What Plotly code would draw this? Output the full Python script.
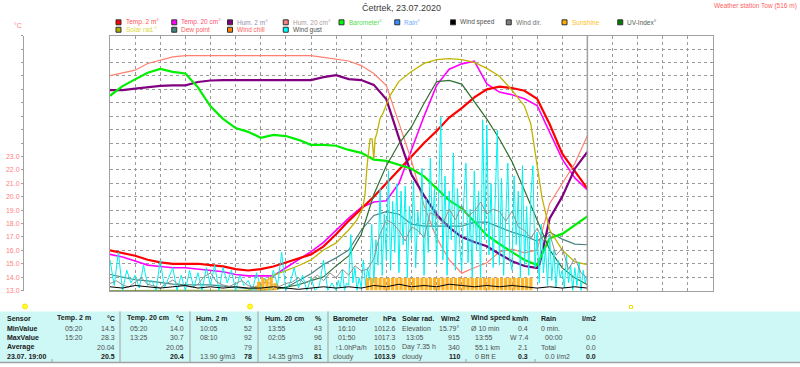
import plotly.graph_objects as go

W, H = 800, 367
def px(x): return x / W
def py(y): return 1 - y / H

# ---------------- data (hours of day) ----------------
hours = [i * 0.5 for i in range(39)]  # 0:00 .. 19:00

temp_2m = [16.0, 15.8, 15.6, 15.3, 15.1, 15.0, 15.0, 15.0, 14.9, 14.8, 14.6, 14.5, 14.6, 14.8,
           15.1, 15.4, 15.7, 16.3, 17.2, 18.2, 19.1, 20.0, 21.0, 22.0, 23.0, 24.0, 24.9, 25.9,
           26.6, 27.4, 28.0, 28.2, 28.1, 27.9, 27.3, 25.4, 23.2, 21.9, 20.6]

temp_20cm = [15.7, 15.5, 15.2, 14.9, 14.8, 14.7, 14.7, 14.6, 14.5, 14.4, 14.2, 14.1, 14.1, 14.1,
             14.7, 15.3, 15.9, 16.6, 17.5, 18.4, 19.2, 19.6, 19.7, 21.0, 23.5, 26.0, 28.3, 29.5,
             29.9, 30.1, 28.4, 27.8, 27.6, 27.3, 26.8, 24.8, 22.8, 21.4, 20.5]

hum2_t = [0, 0.5, 1, 1.5, 2, 2.5, 3, 3.5, 4, 4.5, 5, 5.5, 6, 6.5, 7, 7.5, 8, 8.5, 9, 9.5, 10,
          10.5, 11, 11.5, 12, 12.5, 13, 13.5, 14, 14.5, 15, 15.5, 16, 16.5, 17, 17.1, 17.5, 18,
          18.5, 19]
hum_2m = [88.9, 88.9, 89.2, 89.5, 89.8, 89.9, 89.9, 90.6, 90.9, 91.0, 91.0, 91.0, 91.0, 91.0,
          91.0, 91.0, 91.0, 91.6, 92.0, 91.2, 91.0, 90.0, 87.0, 79.0, 71.4, 67.0, 63.1, 60.4,
          58.4, 57.4, 56.5, 54.9, 53.4, 52.4, 52.0, 52.8, 62.3, 66.8, 72.6, 76.1]

hum_20cm = [91.2, 91.9, 92.5, 94.1, 94.9, 95.7, 96.0, 96.0, 96.0, 96.0, 96.0, 96.0, 96.0, 96.0,
            96.0, 96.0, 96.0, 95.6, 95.1, 94.7, 93.6, 91.7, 88.8, 79.5, 70.7, 59.9, 52.1, 46.8,
            43.6, 44.9, 46.1, 48.7, 49.4, 48.5, 49.2, 60.4, 65.2, 70.0, 76.7]

barometer = [1016.65, 1016.88, 1017.04, 1017.20, 1017.29, 1017.22, 1017.18, 1016.85, 1016.40,
             1016.10, 1015.88, 1015.79, 1015.65, 1015.72, 1015.69, 1015.60, 1015.48, 1015.48,
             1015.46, 1015.36, 1015.29, 1015.13, 1015.10, 1015.01, 1014.91, 1014.73, 1014.44,
             1014.16, 1013.97, 1013.64, 1013.33, 1013.12, 1012.93, 1012.74, 1012.62, 1013.26,
             1013.36, 1013.57, 1013.78]

solar_t = [0, 5.5, 6, 6.5, 7, 7.5, 8, 8.5, 9, 9.5, 9.83, 10.07, 10.15, 10.23, 10.35, 10.43,
           10.5, 10.55, 10.62, 10.75, 10.87, 11.14, 11.5, 12, 12.5, 13, 13.5, 14, 14.5, 15,
           15.5, 16, 16.5, 16.75, 16.9, 17, 17.2, 17.5, 18, 18.5, 19]
solar = [0, 2, 20, 60, 79, 98, 121, 160, 188, 239, 279, 330, 380, 490, 598, 598, 520, 598,
         620, 680, 700, 768, 825, 864, 896, 911, 915, 911, 900, 876, 845, 790, 727, 657, 559,
         493, 364, 239, 160, 113, 102]

uv_t = [0, 6, 6.5, 7, 7.5, 8, 8.5, 9, 9.5, 10, 10.5, 11, 11.5, 12, 12.5, 13, 13.5, 14, 14.5,
        15, 15.5, 16, 16.5, 17, 17.5, 18, 18.5, 19]
uv_index = [0, 0, 0.04, 0.12, 0.23, 0.39, 0.54, 0.97, 1.36, 2.2, 3.77, 4.9, 5.76, 6.42, 7.35,
            8.2, 8.25, 8.1, 7.4, 6.73, 5.95, 5.06, 3.93, 2.76, 1.6, 0.89, 0.5, 0.23]

dew_point = [14.2, 14.03, 13.81, 13.72, 13.59, 13.48, 13.44, 13.44, 13.42, 13.33, 13.22, 13.15,
             13.1, 13.11, 13.22, 13.75, 14.25, 14.94, 15.44, 16.03, 17.5, 18.6, 18.88, 18.69,
             17.95, 17.8, 17.8, 17.8, 17.8, 18.1, 18.1, 17.73, 17.36, 17.07, 16.7, 17.36, 16.84,
             16.47, 16.42]

wind_speed = [0.3, 0.2, 0.4, 0.3, 0.2, 0.3, 0.4, 0.2, 0.3, 0.2, 0.3, 0.2, 0.2, 0.3, 0.2, 0.1,
              0.2, 0.3, 0.2, 0.3, 0.2, 0.4, 0.3, 0.5, 0.3, 0.4, 0.3, 0.5, 0.4, 0.3, 0.4, 0.3,
              0.4, 0.3, 0.2, 0.3, 0.2, 0.3, 0.2]

wdir_t = [i * 0.25 for i in range(77)]
wind_dir = [10, 14, 8, 5, 12, 18, 9, 6, 4, 10, 15, 8, 6, 5, 9, 20, 25, 12, 8, 6, 10, 14, 7, 5,
            9, 12, 8, 6, 10,
            12, 18, 10, 15, 22, 14, 25, 18, 30, 22, 35, 28,
            30, 45, 80, 100, 95, 85, 70, 90, 85, 75, 110, 105, 95, 115, 100, 120, 105, 112, 125,
            108, 115, 112, 98, 112, 90, 85, 74, 88, 70, 80, 50, 60, 30, 46, 25, 18]

gust_night = [1.2, 0.2, 1.5, 0.0, 0.8, 0.3,
              0.6, 0.1, 1.0, 0.2, 0.4, 0.0,
              1.2, 0.1, 0.5, 0.9, 0.0, 0.6,
              0.0, 0.8, 0.1, 0.7, 0.0, 0.9,
              0.2, 1.0, 0.0, 0.9, 0.3, 0.8,
              0.0, 0.6, 0.2, 0.4, 0.0, 0.7,
              0.1, 0.5, 0.0, 0.8, 0.2, 1.5,
              0.0, 0.3, 0.9, 0.1, 0.6, 0.0,
              0.5, 0.0, 0.2, 1.2, 0.0, 0.3]
gust_day = [0.0, 0.4, 0.1, 0.8, 0.0, 0.3, 0.2, 2.2, 0.3, 0.9, 0.0, 0.5,
            0.1, 1.2, 0.2, 0.9, 0.4, 2.6, 0.3, 2.0, 1.0, 4.0, 0.6, 3.0,
            1.2, 4.7, 0.8, 3.5, 1.5, 4.2, 0.7, 3.9, 1.8, 4.1, 0.5, 3.3,
            2.0, 4.3, 0.9, 3.1, 2.2, 4.8, 0.6, 3.6, 1.5, 5.2, 2.4, 4.0,
            1.0, 4.4, 6.8, 1.2, 4.5, 0.6, 3.9, 2.0, 5.4, 0.8, 4.0, 1.8,
            0.8, 3.6, 5.0, 1.1, 3.2, 0.5, 4.7, 1.6, 3.9, 0.4, 6.7, 2.0,
            6.5, 1.4, 4.2, 0.9, 3.5, 6.3, 1.0, 4.4, 0.6, 3.1, 5.0, 1.2,
            0.8, 4.5, 1.8, 3.9, 0.5, 4.9, 1.0, 3.3, 0.6, 3.7, 4.9, 0.9,
            2.3, 0.3, 2.6, 0.7, 1.7, 0.2, 2.2, 0.4, 1.6, 0.1, 1.2, 0.5,
            0.8, 0.1, 1.4, 0.3, 1.0, 0.0, 0.9, 0.2, 1.1, 0.0, 0.8, 0.3,
            0.6]
gust_t = [i / 6 for i in range(len(gust_night))] + [9 + i / 12 for i in range(len(gust_day))]
wind_gust = gust_night + gust_day

sun_early = [7, 10, 9, 10, 6]
sun_main = [10, 10, 10, 10, 10, 10, 10, 10, 10, 10, 10, 10, 10, 10, 10, 10, 10, 10, 10, 10,
            10, 10, 10, 10, 10, 10, 10, 10, 10, 10, 10, 10, 10, 10, 10, 10, 10, 10, 10, 10]
sun_t = [5.9167 + i / 6 for i in range(len(sun_early))] + [10.25 + i / 6 for i in range(len(sun_main))]
sunshine = sun_early + sun_main

temp_ticks = list(range(13, 33))
temp_ticktext = ["%.1f" % v if v <= 23 else "" for v in temp_ticks]

# ---------------- figure ----------------
fig = go.Figure()
fig.add_trace(go.Bar(x=sun_t, y=sunshine, yaxis="y9", width=0.13,
                     marker=dict(color="#ffb428", line=dict(width=0))))
fig.add_trace(go.Scatter(x=gust_t, y=wind_gust, yaxis="y7", mode="lines",
                         line=dict(color="#00f0f0", width=1)))
fig.add_trace(go.Scatter(x=wdir_t, y=wind_dir, yaxis="y8", mode="lines",
                         line=dict(color="#909090", width=1)))
fig.add_trace(go.Scatter(x=hours, y=wind_speed, yaxis="y10", mode="lines",
                         line=dict(color="#000000", width=1)))
fig.add_trace(go.Scatter(x=hours, y=dew_point, yaxis="y", mode="lines",
                         line=dict(color="#4a8080", width=1.2)))
fig.add_trace(go.Scatter(x=uv_t, y=uv_index, yaxis="y6", mode="lines",
                         line=dict(color="#2f6f2f", width=1.2)))
fig.add_trace(go.Scatter(x=solar_t, y=solar, yaxis="y5", mode="lines",
                         line=dict(color="#c0b400", width=1.3)))
fig.add_trace(go.Scatter(x=hours, y=hum_20cm, yaxis="y2", mode="lines",
                         line=dict(color="#ff8070", width=1.2)))
fig.add_trace(go.Scatter(x=hours, y=barometer, yaxis="y4", mode="lines",
                         line=dict(color="#00ee00", width=2.2)))
fig.add_trace(go.Scatter(x=hum2_t, y=hum_2m, yaxis="y3", mode="lines",
                         line=dict(color="#800080", width=2.2)))
fig.add_trace(go.Scatter(x=hours, y=temp_20cm, yaxis="y", mode="lines",
                         line=dict(color="#ff00ff", width=1.6)))
fig.add_trace(go.Scatter(x=hours, y=temp_2m, yaxis="y", mode="lines",
                         line=dict(color="#ff0000", width=2.2)))

GRID = "#9a9a9a"
dom_y = [py(293), py(36)]
hidden = lambda r: dict(overlaying="y", anchor="x", range=r, visible=False)

fig.update_layout(
    width=W, height=H, margin=dict(l=0, r=0, t=0, b=0),
    paper_bgcolor="white", plot_bgcolor="white", showlegend=False,
    xaxis=dict(domain=[px(110), px(713)], range=[0, 24], dtick=1, tick0=0,
               showgrid=True, gridcolor=GRID, griddash="dot", gridwidth=1,
               showticklabels=False, ticks="", zeroline=False,
               showline=True, linecolor="#a0a0a0", linewidth=1, mirror=True),
    yaxis=dict(domain=dom_y, range=[13, 32], anchor="free", position=px(23), side="left",
               tickmode="array", tickvals=temp_ticks, ticktext=temp_ticktext,
               tickfont=dict(family="Liberation Sans", size=7, color="#ff8080"),
               ticks="outside", ticklen=2, tickcolor="#a0a0a0",
               showline=True, linecolor="#a0a0a0", linewidth=1,
               showgrid=True, gridcolor=GRID, griddash="dot", gridwidth=1, zeroline=False),
    yaxis2=dict(overlaying="y", anchor="x", range=[39.4, 100.8], showgrid=False,
                showticklabels=False, ticks="", zeroline=False,
                showline=True, linecolor="#a0a0a0", linewidth=1, mirror=True),
    yaxis3=hidden([47.3, 100.2]),
    yaxis4=hidden([1012.01, 1018.08]),
    yaxis5=hidden([0, 1005]),
    yaxis6=hidden([0, 10]),
    yaxis7=hidden([0, 10]),
    yaxis8=hidden([0, 360]),
    yaxis9=hidden([0, 200]),
    yaxis10=hidden([0, 20]),
)

shapes = []
annotations = []

# current time marker (19:00)
shapes.append(dict(type="line", xref="x", yref="paper", x0=19, x1=19, y0=dom_y[0], y1=dom_y[1],
                   line=dict(color="#a0a0a0", width=1.5)))

def text(x, y, s, size=7, color="#404040", anchor="left", family="Liberation Sans"):
    annotations.append(dict(x=px(x), y=py(y), xref="paper", yref="paper", text=s,
                            showarrow=False, xanchor=anchor, yanchor="middle",
                            font=dict(family=family, size=size, color=color)))

# title + station
text(401, 8, "Četrtek, 23.07.2020", size=9, color="#3a3a3a", anchor="center")
text(799, 6, "Weather station Tow (516 m)", size=6.5, color="#ff6060", anchor="right")
text(12, 26, "°C", size=7, color="#ff8080")

# legend
legend_items = [
    ("Temp. 2 m°", "#ff0000", "#ff5050", 0, 0), ("Temp. 20 cm°", "#ff00ff", "#ff5070", 1, 0),
    ("Hum. 2 m°", "#800080", "#9090b0", 2, 0), ("Hum. 20 cm°", "#ff8080", "#b09c9c", 3, 0),
    ("Barometer°", "#00ff00", "#50e050", 4, 0), ("Rain°", "#3090ff", "#70a8ff", 5, 0),
    ("Wind speed", "#000000", "#505050", 6, 0), ("Wind dir.", "#808080", "#707070", 7, 0),
    ("Sunshine", "#ffb000", "#ffc020", 8, 0), ("UV-Index°", "#008000", "#506050", 9, 0),
    ("Solar rad.°", "#b0b000", "#e0d840", 0, 1), ("Dew point", "#408080", "#ff6060", 1, 1),
    ("Wind chill", "#ff8000", "#ff6060", 2, 1), ("Wind gust", "#00ffff", "#505050", 3, 1),
]
for name, sq, tc, col, row in legend_items:
    x0 = 116 + 55.75 * col
    yc = 22.5 + 7.5 * row
    shapes.append(dict(type="rect", xref="paper", yref="paper", x0=px(x0), x1=px(x0 + 5),
                       y0=py(yc + 2.5), y1=py(yc - 2.5), fillcolor=sq,
                       line=dict(color="#303030", width=1)))
    text(x0 + 7.5, yc, name, size=6.5, color=tc)

# table background
shapes.append(dict(type="rect", xref="paper", yref="paper", x0=0, x1=1, y0=py(366), y1=py(314),
                   fillcolor="#cdf8f6", line=dict(width=0), layer="below"))
shapes.append(dict(type="line", xref="paper", yref="paper", x0=0, x1=1, y0=py(365.5), y1=py(365.5),
                   line=dict(color="#a0a0a0", width=1.5)))
for sx in [120, 190, 258, 328]:
    shapes.append(dict(type="line", xref="paper", yref="paper", x0=px(sx), x1=px(sx),
                       y0=py(366), y1=py(314), line=dict(color="#a0a0a0", width=1)))
for sx in [52, 466, 535]:
    shapes.append(dict(type="line", xref="paper", yref="paper", x0=px(sx), x1=px(sx),
                       y0=py(366), y1=py(362), line=dict(color="#a0a0a0", width=1)))

# sun markers above the table
for sx in [25, 250]:
    shapes.append(dict(type="circle", xref="paper", yref="paper", x0=px(sx - 2.5), x1=px(sx + 2.5),
                       y0=py(311.5), y1=py(306.5), fillcolor="#ffff30",
                       line=dict(color="#ffe000", width=1)))
shapes.append(dict(type="rect", xref="paper", yref="paper", x0=px(629.5), x1=px(632.5),
                   y0=py(311), y1=py(308), fillcolor="rgba(0,0,0,0)",
                   line=dict(color="#f0e000", width=1)))

# table text
row_y = [321, 331, 340.7, 350, 359.5]
row_labels = ["Sensor", "MinValue", "MaxValue", "Average", "23.07. 19:00"]
table_columns = [
    (55, 117, "Temp. 2 m", "°C", [(63, "05:20"), (63, "15:20"), (0, ""), (0, "")],
     ["14.5", "28.3", "20.04", "20.5"]),
    (125, 186, "Temp. 20 cm", "°C", [(128, "05:20"), (128, "13:25"), (0, ""), (0, "")],
     ["14.0", "30.7", "20.05", "20.4"]),
    (194, 254, "Hum. 2 m", "%", [(198, "10:05"), (198, "08:10"), (0, ""), (198, "13.90 g/m3")],
     ["52", "92", "79", "78"]),
    (263, 324, "Hum. 20 cm", "%", [(266, "13:55"), (266, "02:05"), (0, ""), (266, "14.35 g/m3")],
     ["43", "96", "81", "81"]),
    (331, 398, "Barometer", "hPa", [(336, "16:10"), (336, "01:50"), (333, "↑1.0hPa/h"), (331, "cloudy")],
     ["1012.6", "1017.3", "1015.0", "1013.9"]),
    (400, 462, "Solar rad.", "W/m2", [(400, "Elevation"), (404, "13:05"), (400, "Day 7.35 h"), (400, "cloudy")],
     ["15.79°", "915", "340", "110"]),
    (469, 530, "Wind speed", "km/h", [(469, "Ø 10 min"), (473, "13:55"), (473, "55.1 km"), (473, "0 Bft E")],
     ["0.4", "W 7.4", "2.1", "0.3"]),
    (539, 598, "Rain", "l/m2", [(539, "0 min."), (543, "00:00"), (539, "Total"), (543, "0.0 l/m2")],
     ["", "0.0", "0.0", "0.0"]),
]
for i, lab in enumerate(row_labels):
    text(5, row_y[i], "<b>%s</b>" % lab, size=7, color="#202020")
for hx, rx, head, unit, lefts, rights in table_columns:
    text(hx, row_y[0], "<b>%s</b>" % head, size=7, color="#202020")
    text(rx, row_y[0], "<b>%s</b>" % unit, size=7, color="#202020", anchor="right")
    for r in range(4):
        lx, ls = lefts[r]
        if ls:
            text(lx, row_y[r + 1], ls, size=7, color="#505050")
        if rights[r]:
            s = rights[r] if r < 3 else "<b>%s</b>" % rights[r]
            text(rx, row_y[r + 1], s, size=7, color="#505050" if r < 3 else "#202020",
                 anchor="right")

fig.update_layout(shapes=shapes, annotations=annotations)
fig.write_html("out.html", config={"displayModeBar": False},
               post_script="document.body.style.margin='0';document.body.style.padding='0';"
                           "document.body.style.overflow='hidden';")
